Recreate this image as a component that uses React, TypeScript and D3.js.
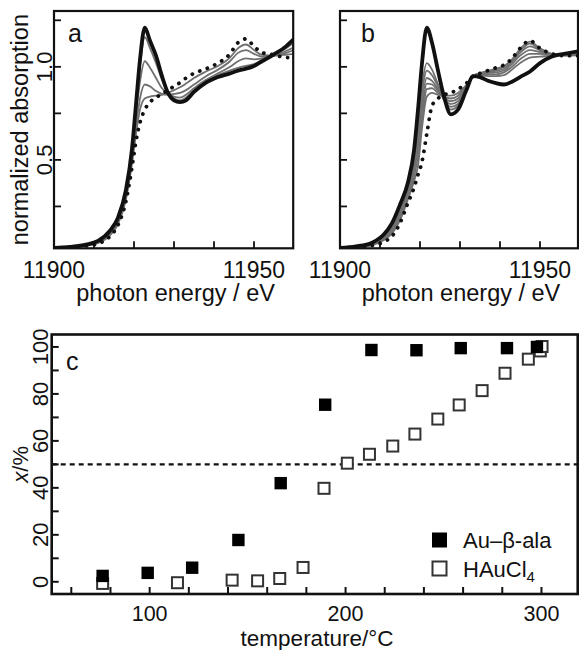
import React from "react";
import * as d3 from "d3";

// ---------- Panel a data (photon energy / eV vs normalized absorption) ----------
const energyA = [11900, 11904, 11908, 11911, 11914, 11916, 11918, 11919.5, 11920.5, 11921.5, 11922.7, 11924, 11925.5, 11927, 11928.5, 11930, 11931.5, 11933, 11935, 11938, 11941, 11944, 11946, 11948, 11950, 11952, 11955, 11958, 11960];
const aBlack = [0.027, 0.033, 0.045, 0.065, 0.12, 0.19, 0.34, 0.56, 0.8, 1.04, 1.21, 1.14, 1.06, 0.95, 0.86, 0.82, 0.81, 0.82, 0.865, 0.915, 0.945, 0.965, 0.98, 0.99, 1.005, 1.03, 1.067, 1.11, 1.15];
const aDotted = [0.027, 0.03, 0.038, 0.05, 0.09, 0.15, 0.28, 0.46, 0.6, 0.7, 0.77, 0.81, 0.835, 0.855, 0.875, 0.895, 0.915, 0.94, 0.965, 0.99, 1.02, 1.07, 1.13, 1.15, 1.11, 1.077, 1.065, 1.05, 1.05];
const aGrey1 = [0.027, 0.033, 0.044, 0.063, 0.115, 0.185, 0.33, 0.545, 0.78, 1.0, 1.16, 1.1, 1.02, 0.93, 0.86, 0.83, 0.82, 0.835, 0.875, 0.92, 0.955, 0.98, 0.995, 1.005, 1.015, 1.035, 1.065, 1.1, 1.13];
const aGrey2 = [0.027, 0.032, 0.042, 0.06, 0.11, 0.175, 0.32, 0.53, 0.74, 0.92, 1.03, 0.995, 0.94, 0.885, 0.855, 0.84, 0.835, 0.85, 0.885, 0.93, 0.965, 1.0, 1.03, 1.045, 1.04, 1.045, 1.06, 1.085, 1.105];
const aGrey3 = [0.027, 0.031, 0.04, 0.056, 0.1, 0.165, 0.3, 0.5, 0.68, 0.83, 0.905, 0.895, 0.87, 0.855, 0.85, 0.855, 0.86, 0.875, 0.905, 0.95, 0.985, 1.03, 1.075, 1.09, 1.07, 1.055, 1.06, 1.075, 1.09];
const aGrey4 = [0.027, 0.031, 0.039, 0.053, 0.095, 0.155, 0.29, 0.48, 0.64, 0.77, 0.83, 0.84, 0.845, 0.85, 0.86, 0.875, 0.89, 0.91, 0.94, 0.975, 1.005, 1.05, 1.1, 1.12, 1.09, 1.065, 1.06, 1.065, 1.07];

// ---------- Panel b data ----------
const energyB = [11900, 11904, 11908, 11911, 11913, 11915, 11917, 11918.5, 11919.5, 11920.5, 11921.7, 11923, 11924.5, 11926, 11927.7, 11929.5, 11931.5, 11933.3, 11935, 11937, 11939, 11941, 11943, 11945, 11947.5, 11950, 11953, 11956, 11960];
const bBlack = [0.027, 0.035, 0.055, 0.1, 0.16, 0.26, 0.38, 0.55, 0.77, 1.02, 1.21, 1.13, 0.98, 0.84, 0.745, 0.77, 0.87, 0.95, 0.945, 0.925, 0.912, 0.905, 0.92, 0.945, 0.975, 1.02, 1.055, 1.07, 1.085];
const bDotted = [0.027, 0.03, 0.04, 0.06, 0.09, 0.16, 0.27, 0.35, 0.42, 0.49, 0.64, 0.79, 0.83, 0.85, 0.86, 0.88, 0.91, 0.95, 0.965, 0.98, 0.995, 1.01, 1.045, 1.1, 1.14, 1.1, 1.07, 1.06, 1.06];
const bGrey1 = [0.027, 0.034, 0.052, 0.095, 0.15, 0.24, 0.37, 0.52, 0.7, 0.9, 1.02, 0.985, 0.905, 0.82, 0.77, 0.79, 0.875, 0.95, 0.955, 0.95, 0.95, 0.955, 0.985, 1.02, 1.05, 1.055, 1.06, 1.07, 1.08];
const bGrey2 = [0.027, 0.033, 0.05, 0.09, 0.145, 0.23, 0.36, 0.5, 0.67, 0.86, 0.98, 0.955, 0.895, 0.825, 0.785, 0.8, 0.88, 0.95, 0.96, 0.96, 0.96, 0.97, 1.0, 1.04, 1.07, 1.07, 1.065, 1.07, 1.075];
const bGrey3 = [0.027, 0.033, 0.048, 0.085, 0.135, 0.22, 0.34, 0.47, 0.62, 0.81, 0.94, 0.925, 0.88, 0.83, 0.8, 0.815, 0.885, 0.95, 0.963, 0.967, 0.97, 0.98, 1.015, 1.06, 1.09, 1.08, 1.065, 1.065, 1.07];
const bGrey4 = [0.027, 0.032, 0.046, 0.08, 0.125, 0.205, 0.32, 0.44, 0.57, 0.76, 0.91, 0.905, 0.87, 0.835, 0.815, 0.83, 0.89, 0.95, 0.965, 0.972, 0.978, 0.99, 1.025, 1.075, 1.11, 1.09, 1.065, 1.063, 1.067];
const bGrey5 = [0.027, 0.031, 0.044, 0.075, 0.115, 0.19, 0.3, 0.41, 0.52, 0.71, 0.88, 0.885, 0.86, 0.84, 0.83, 0.845, 0.895, 0.95, 0.965, 0.975, 0.985, 1.0, 1.035, 1.085, 1.125, 1.095, 1.068, 1.062, 1.065];
const bGrey6 = [0.027, 0.03, 0.042, 0.07, 0.105, 0.175, 0.29, 0.385, 0.47, 0.67, 0.84, 0.86, 0.85, 0.845, 0.845, 0.86, 0.9, 0.95, 0.966, 0.978, 0.99, 1.005, 1.04, 1.095, 1.135, 1.1, 1.07, 1.061, 1.062];

// ---------- Panel c data (temperature / °C vs x / %) ----------
const tempAuAla = [76, 99, 121.7, 145.3, 166.9, 189.6, 213.2, 236.2, 258.8, 282.4, 297.7];
const xAuAla = [2.5, 3.8, 6, 17.8, 42, 75.4, 98.7, 98.6, 99.5, 99.5, 100];
const tempHAuCl4 = [76, 114.2, 142.1, 155.1, 166.4, 178.3, 189, 200.9, 212.2, 224.1, 235.4, 247.1, 258, 269.7, 281.4, 293.3, 299.4, 300.3];
const xHAuCl4 = [-0.7, -0.4, 0.7, 0.4, 1.4, 6.1, 39.8, 50.5, 54.3, 57.8, 62.9, 69.3, 75.3, 81.4, 88.8, 94.8, 98.3, 100.2];

const xTicksAB = [11910, 11920, 11930, 11940, 11950];
const xLabelsAB = [11900, 11950];
const yTicksAB = [0.25, 0.5, 0.75, 1.0, 1.25];
const yLabelsA = [0.5, 1.0];
const xTicksC = [60, 80, 100, 120, 140, 160, 180, 200, 220, 240, 260, 280, 300];
const xLabelsC = [100, 200, 300];
const yTicksC = [0, 10, 20, 30, 40, 50, 60, 70, 80, 90, 100];
const yLabelsC = [0, 20, 40, 60, 80, 100];

const FONT = "'Liberation Sans', Arial, Helvetica, sans-serif";
const GREY = "#707070";

function Spectra({ energies, black, dotted, greys, x, y, id }) {
  const line = (vals) =>
    d3
      .line()
      .x((_, i) => x(energies[i]))
      .y((v) => y(v))
      .curve(d3.curveMonotoneX)(vals);
  const [x0, x1] = x.range();
  const [y0, y1] = y.range();
  return (
    <g>
      <defs>
        <clipPath id={id}>
          <rect x={x0} y={y1} width={x1 - x0} height={y0 - y1} />
        </clipPath>
      </defs>
      <g clipPath={`url(#${id})`}>
        {greys.map((g, i) => (
          <path key={i} d={line(g)} fill="none" stroke={GREY} strokeWidth={1.8} />
        ))}
        <path d={line(black)} fill="none" stroke="#111" strokeWidth={3.8} strokeLinejoin="round" />
        <path d={line(dotted)} fill="none" stroke="#111" strokeWidth={3.8} strokeDasharray="0.1,8" strokeLinecap="round" />
      </g>
    </g>
  );
}

function Frame({ x, y, sw }) {
  const [x0, x1] = x.range();
  const [y0, y1] = y.range();
  return <rect x={x0} y={y1} width={x1 - x0} height={y0 - y1} fill="none" stroke="#111" strokeWidth={sw} />;
}

export default function App() {
  const xA = d3.scaleLinear().domain([11900, 11959.8]).range([54, 293.2]);
  const xB = d3.scaleLinear().domain([11900, 11959.5]).range([340, 578]);
  const yAB = d3.scaleLinear().domain([0.025, 1.3]).range([248.3, 11]);
  const xC = d3.scaleLinear().domain([50, 318.5]).range([51.7, 577.7]);
  const yC = d3.scaleLinear().domain([-5.2, 105.3]).range([594, 334.5]);
  const TL = 7;

  const spectraPanel = (x, label, labelX, id, data) => {
    const [x0] = x.range();
    const [yb] = yAB.range();
    return (
      <g>
        <Spectra {...data} x={x} y={yAB} id={id} />
        {xTicksAB.map((t) => (
          <line key={"xt" + t} x1={x(t)} x2={x(t)} y1={yb} y2={yb - TL} stroke="#111" strokeWidth={1.8} />
        ))}
        {yTicksAB.map((t) => (
          <line key={"yt" + t} x1={x0} x2={x0 + TL} y1={yAB(t)} y2={yAB(t)} stroke="#111" strokeWidth={1.8} />
        ))}
        <Frame x={x} y={yAB} sw={2.2} />
        {xLabelsAB.map((t) => (
          <text key={"xl" + t} x={x(t)} y={278} textAnchor="middle" fontSize={23} fontFamily={FONT} fill="#111">
            {t}
          </text>
        ))}
        <text x={(x.range()[0] + x.range()[1]) / 2 + 2} y={301} textAnchor="middle" fontSize={23.5} fontFamily={FONT} fill="#111">
          photon energy / eV
        </text>
        <text x={labelX} y={42} fontSize={25} fontFamily={FONT} fill="#111">
          {label}
        </text>
      </g>
    );
  };

  return (
    <svg width={579} height={650} style={{ position: "absolute", left: 0, top: 0, background: "#fff" }}>
      <rect x={0} y={0} width={579} height={650} fill="#fff" />
      {spectraPanel(xA, "a", 68, "clipA", {
        energies: energyA,
        black: aBlack,
        dotted: aDotted,
        greys: [aGrey1, aGrey2, aGrey3, aGrey4],
      })}
      {spectraPanel(xB, "b", 361, "clipB", {
        energies: energyB,
        black: bBlack,
        dotted: bDotted,
        greys: [bGrey1, bGrey2, bGrey3, bGrey4, bGrey5, bGrey6],
      })}
      {yLabelsA.map((t) => (
        <text key={"yla" + t} transform={`translate(51.5,${yAB(t)}) rotate(-90)`} textAnchor="middle" fontSize={22} fontFamily={FONT} fill="#111">
          {t.toFixed(1)}
        </text>
      ))}
      <text transform={`translate(28,${(yAB.range()[0] + yAB.range()[1]) / 2}) rotate(-90)`} textAnchor="middle" fontSize={23.5} fontFamily={FONT} fill="#111">
        normalized absorption
      </text>

      {/* Panel c */}
      <line x1={xC.range()[0]} x2={xC.range()[1]} y1={yC(50)} y2={yC(50)} stroke="#111" strokeWidth={2.2} strokeDasharray="5,4" />
      {xTicksC.map((t) => (
        <line key={"cx" + t} x1={xC(t)} x2={xC(t)} y1={yC.range()[0]} y2={yC.range()[0] - TL} stroke="#111" strokeWidth={2} />
      ))}
      {yTicksC.map((t) => (
        <line key={"cy" + t} x1={xC.range()[0]} x2={xC.range()[0] + TL} y1={yC(t)} y2={yC(t)} stroke="#111" strokeWidth={2} />
      ))}
      {tempHAuCl4.map((t, i) => (
        <rect key={"o" + i} x={xC(t) - 5.5} y={yC(xHAuCl4[i]) - 5.5} width={11} height={11} fill="#fff" stroke="#333" strokeWidth={2} />
      ))}
      {tempAuAla.map((t, i) => (
        <rect key={"f" + i} x={xC(t) - 6.2} y={yC(xAuAla[i]) - 6.2} width={12.4} height={12.4} fill="#000" />
      ))}
      <Frame x={xC} y={yC} sw={2.6} />
      {xLabelsC.map((t) => (
        <text key={"cxl" + t} x={xC(t)} y={621} textAnchor="middle" fontSize={21.5} fontFamily={FONT} fill="#111">
          {t}
        </text>
      ))}
      {yLabelsC.map((t) => (
        <text key={"cyl" + t} transform={`translate(48,${yC(t)}) rotate(-90)`} textAnchor="middle" fontSize={22} fontFamily={FONT} fill="#111">
          {t}
        </text>
      ))}
      <text x={317} y={645.5} textAnchor="middle" fontSize={22.5} fontFamily={FONT} fill="#111">
        temperature/°C
      </text>
      <text transform={`translate(28,${yC(50)}) rotate(-90)`} textAnchor="middle" fontSize={22} fontFamily={FONT} fill="#111">
        <tspan fontStyle="italic">x</tspan>/%
      </text>
      <text x={66} y={370} fontSize={25} fontFamily={FONT} fill="#111">
        c
      </text>

      {/* legend */}
      <rect x={432} y={532.5} width={15} height={15} fill="#000" />
      <text x={463} y={548} fontSize={22} fontFamily={FONT} fill="#111">
        Au–β-ala
      </text>
      <rect x={432.5} y={561.5} width={14} height={14} fill="#fff" stroke="#333" strokeWidth={2} />
      <text x={463} y={577} fontSize={22} fontFamily={FONT} fill="#111">
        HAuCl
        <tspan fontSize={15} dy={5}>
          4
        </tspan>
      </text>
    </svg>
  );
}
